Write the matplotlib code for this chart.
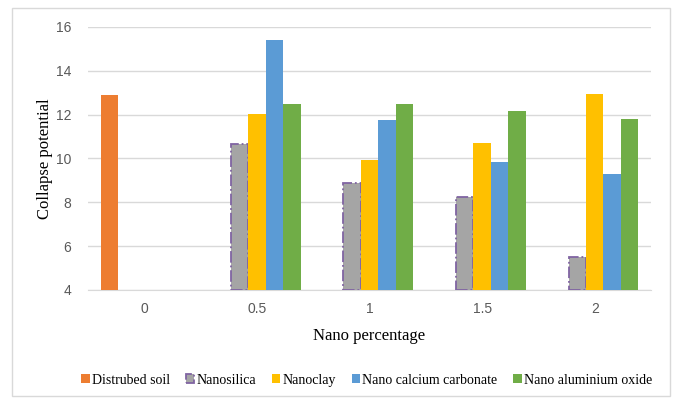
import matplotlib
matplotlib.use("Agg")
import matplotlib.pyplot as plt
import numpy as np
from matplotlib.patches import Rectangle

# Collapse potential for each nano additive and percentage
percent_labels = ["0", "0.5", "1", "1.5", "2"]
series_names = ["Distrubed soil", "Nanosilica", "Nanoclay",
                "Nano calcium carbonate", "Nano aluminium oxide"]
disturbed = [12.9, np.nan, np.nan, np.nan, np.nan]
nanosilica = [np.nan, 10.67, 8.9, 8.23, 5.49]
nanoclay = [np.nan, 12.04, 9.95, 10.7, 12.95]
calcium_carbonate = [np.nan, 15.42, 11.75, 9.84, 9.31]
aluminium_oxide = [np.nan, 12.48, 12.5, 12.17, 11.79]

colors = ["#ED7D31", "#A5A5A5", "#FFC000", "#5B9BD5", "#70AD47"]
series = [disturbed, nanosilica, nanoclay, calcium_carbonate, aluminium_oxide]

fig = plt.figure(figsize=(6.74, 3.98), dpi=100)
ax = fig.add_axes([0.1306, 0.2714, 0.8353, 0.6608])

x = np.arange(len(percent_labels))
width = 0.155
base = 4
for i, (vals, name, col) in enumerate(zip(series, series_names, colors)):
    offs = (i - 2) * width
    vals = np.array(vals, dtype=float)
    if name == "Nanosilica":
        ax.bar(x + offs, vals - base, width, bottom=base, color=col,
               edgecolor="#8064A2", linestyle="-.", linewidth=1.3,
               label=name, zorder=3)
    else:
        ax.bar(x + offs, vals - base, width, bottom=base, color=col,
               label=name, zorder=3)

ax.set_xlim(-0.5, 4.5)
ax.set_ylim(4, 16)
ax.set_yticks(np.arange(4, 17, 2))
ax.set_xticks(x)
ax.set_xticklabels(percent_labels)
ax.grid(axis="y", color="#D9D9D9", linewidth=1, zorder=0)
for s in ["top", "right", "left"]:
    ax.spines[s].set_visible(False)
ax.spines["bottom"].set_color("#D9D9D9")
ax.tick_params(length=0, labelsize=10, labelcolor="#595959")
ax.tick_params(axis="y", pad=12)
ax.tick_params(axis="x", pad=9)
for lbl in ax.get_xticklabels() + ax.get_yticklabels():
    lbl.set_family("Liberation Sans")

ax.set_xlabel("Nano percentage", family="Liberation Serif", fontsize=12,
              labelpad=8)
ax.set_ylabel("Collapse potential", family="Liberation Serif", fontsize=12,
              labelpad=2)

handles, labels = ax.get_legend_handles_labels()
fig.legend(handles, labels, loc="center", bbox_to_anchor=(0.544, 0.045),
           ncol=5, frameon=False, handlelength=0.6, handleheight=0.6,
           handletextpad=0.15, columnspacing=1.15,
           prop={"family": "Liberation Serif", "size": 10})

# light border around the whole chart
fig.add_artist(Rectangle((12 / 674, 2 / 398), 658 / 674, 388 / 398,
                         transform=fig.transFigure, fill=False,
                         edgecolor="#D9D9D9", linewidth=1))

fig.savefig("out.png", dpi=100)
